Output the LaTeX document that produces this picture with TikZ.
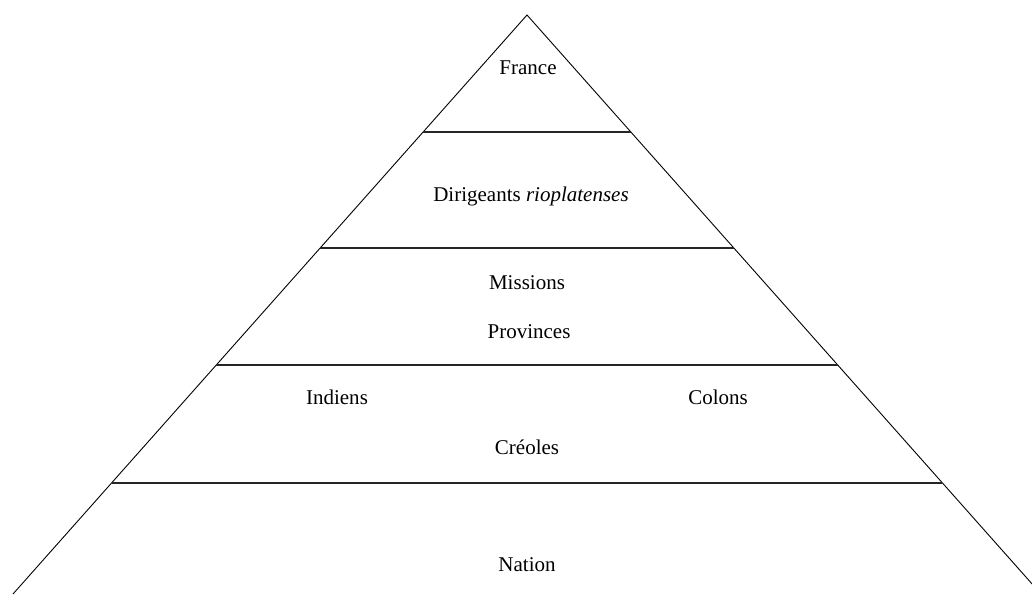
\documentclass[tikz,border=0pt]{standalone}
\usepackage{fontspec}
\setmainfont{Liberation Serif}
\usetikzlibrary{calc}
\begin{document}
\begin{tikzpicture}[x=1pt,y=-1pt,
  side/.style={line width=0.9pt,black},
  band/.style={line width=1.6pt,black!85},
  lbl/.style={inner sep=0pt,font=\fontsize{21}{25}\selectfont}]
\useasboundingbox (0,0) rectangle (1032,594);
\clip (0,0) rectangle (1032,594);
\fill[white] (0,0) rectangle (1032,594);
\coordinate (apex) at (527,15);
\coordinate (bl) at (13,594);
\coordinate (br) at (1041,594);
\draw[side] (bl) -- (apex) -- (br);
\foreach \t [count=\i] in {0.2021,0.4024,0.6045,0.8083}{
  \coordinate (l\i) at ($(apex)!\t!(bl)$);
  \coordinate (r\i) at ($(apex)!\t!(br)$);
  \draw[band] (l\i) -- (r\i);
}
\node[lbl] (france) at (528,68) {France};
\node[lbl] (dirig) at (531,196) {Dirigeants \textit{rioplatenses}};
\node[lbl] (missions) at (527,283) {Missions};
\node[lbl] (provinces) at (529,332) {Provinces};
\node[lbl] (indiens) at (337,397) {Indiens};
\node[lbl] (colons) at (718,397) {Colons};
\node[lbl] (creoles) at (527,447) {Créoles};
\node[lbl] (nation) at (527,565) {Nation};
\end{tikzpicture}
\end{document}
